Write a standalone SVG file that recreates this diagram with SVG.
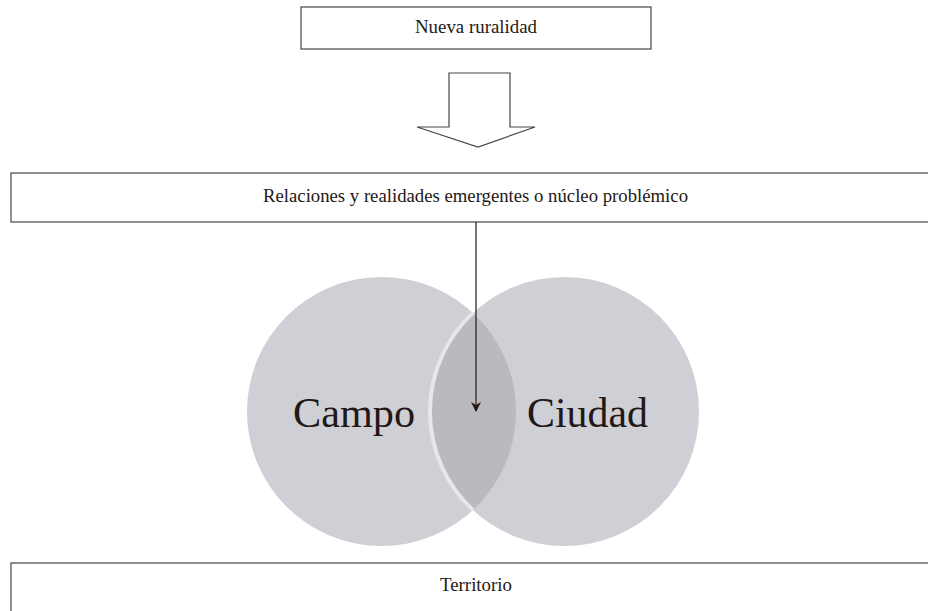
<svg xmlns="http://www.w3.org/2000/svg" width="928" height="611" viewBox="0 0 928 611">
<style>
.box{fill:#fff;stroke:#4a4546;stroke-width:1.2}
.t{font-family:"Liberation Serif",serif;fill:#231815;font-size:18px}
.big{font-family:"Liberation Serif",serif;fill:#231815;font-size:42px}
.circ{fill:#cfd0d5}
</style>
<defs>
<marker id="ah" viewBox="0 0 10 10" refX="9" refY="5" markerWidth="10" markerHeight="10" markerUnits="userSpaceOnUse" orient="auto">
<path d="M0,0 L10,5 L0,10 L3,5 Z" fill="#231815"/>
</marker>
</defs>
<rect width="928" height="611" fill="#fff"/>
<g id="circles">
<circle cx="381.5" cy="411.5" r="134.5" class="circ"/>
<circle cx="564.5" cy="411.5" r="134.5" class="circ"/>
<path d="M473,312.9 A134.5,134.5 0 0 1 473,510.1 A134.5,134.5 0 0 1 473,312.9 Z" fill="#b9b9be"/>
<path d="M473,312.9 A134.5,134.5 0 0 0 473,510.1" fill="none" stroke="#e6e7ea" stroke-width="4"/>
</g>
<g id="campo"><text class="big" x="293" y="427" textLength="122" lengthAdjust="spacingAndGlyphs">Campo</text></g>
<g id="ciudad"><text class="big" x="527" y="427" textLength="121" lengthAdjust="spacingAndGlyphs">Ciudad</text></g>
<g id="nueva">
<rect class="box" x="301" y="7" width="350" height="42"/>
<text class="t" x="476" y="33" text-anchor="middle" textLength="122" lengthAdjust="spacingAndGlyphs">Nueva ruralidad</text>
</g>
<g id="relaciones">
<rect class="box" x="11" y="173" width="930" height="49"/>
<text class="t" x="475.5" y="202" text-anchor="middle" textLength="425" lengthAdjust="spacingAndGlyphs">Relaciones y realidades emergentes o núcleo problémico</text>
</g>
<g id="territorio">
<rect class="box" x="11" y="563" width="930" height="60"/>
<text class="t" x="476" y="591" text-anchor="middle" textLength="72" lengthAdjust="spacingAndGlyphs">Territorio</text>
</g>
<g id="connectors">
<path d="M449,73 L510,73 L510,127 L535,127 L478,147 L417,127 L449,127 Z" fill="#fff" stroke="#4a4546" stroke-width="1.2"/>
<line x1="476" y1="222" x2="476" y2="411" stroke="#231815" stroke-width="1.2" marker-end="url(#ah)"/>
</g>
</svg>
